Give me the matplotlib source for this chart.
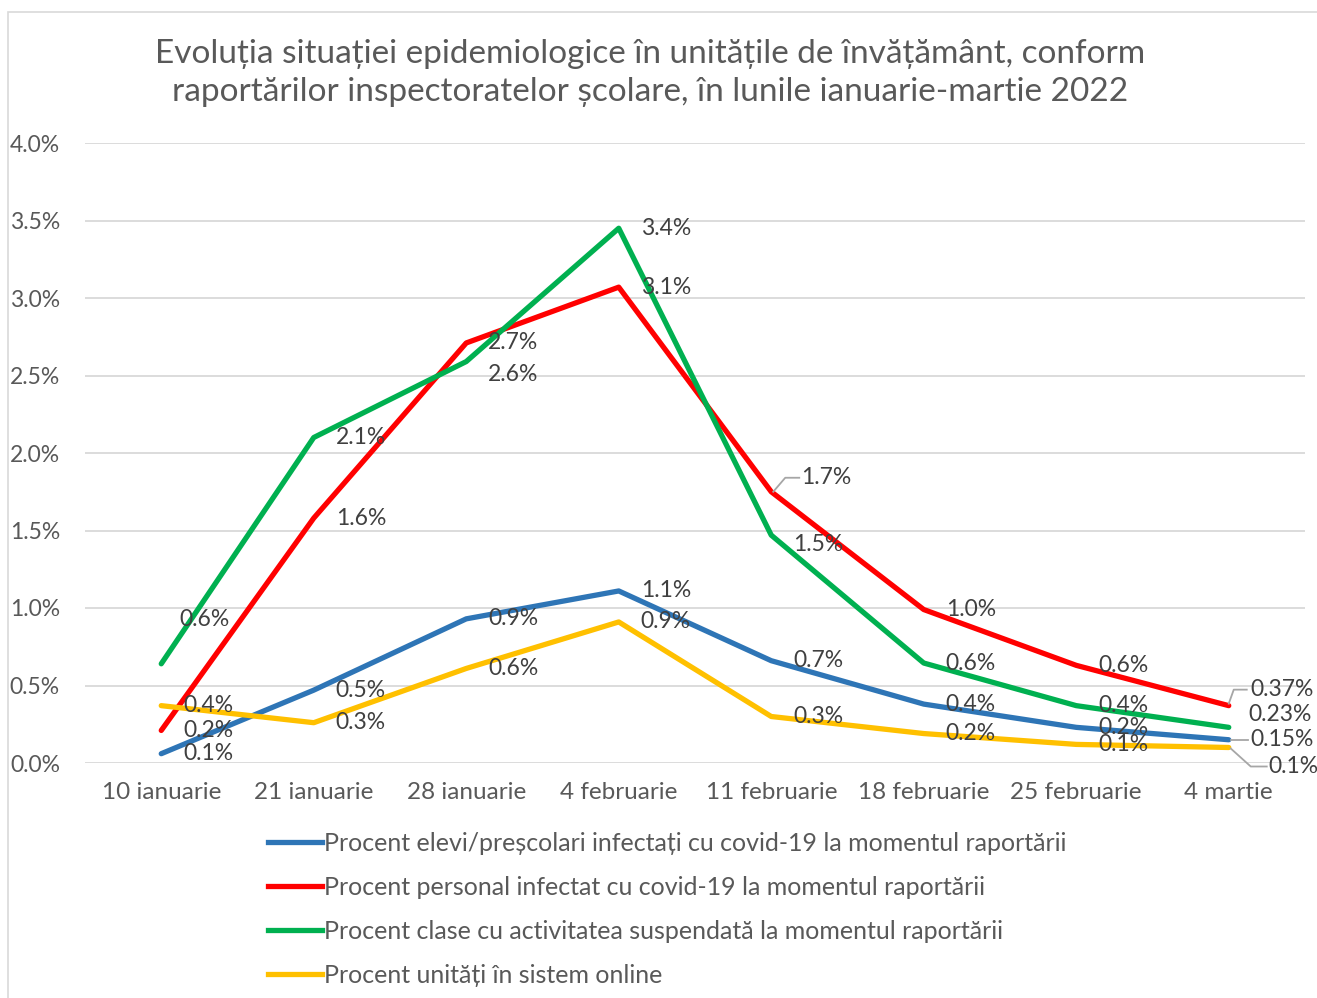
import matplotlib
matplotlib.use("Agg")
import matplotlib.pyplot as plt
from matplotlib.lines import Line2D
from matplotlib.patches import Rectangle
from matplotlib.transforms import IdentityTransform

plt.rcParams['font.family'] = ['Lato', 'DejaVu Sans']

categories = ["10 ianuarie", "21 ianuarie", "28 ianuarie", "4 februarie",
              "11 februarie", "18 februarie", "25 februarie", "4 martie"]

elevi = [0.06, 0.47, 0.93, 1.11, 0.66, 0.38, 0.23, 0.15]
personal = [0.21, 1.58, 2.71, 3.07, 1.75, 0.99, 0.63, 0.37]
clase = [0.64, 2.10, 2.59, 3.45, 1.47, 0.645, 0.37, 0.23]
online = [0.37, 0.26, 0.61, 0.91, 0.30, 0.19, 0.12, 0.10]

labels_elevi = ["0.1%", "0.5%", "0.9%", "1.1%", "0.7%", "0.4%", "0.2%", "0.15%"]
labels_personal = ["0.2%", "1.6%", "2.7%", "3.1%", "1.7%", "1.0%", "0.6%", "0.37%"]
labels_clase = ["0.6%", "2.1%", "2.6%", "3.4%", "1.5%", "0.6%", "0.4%", "0.23%"]
labels_online = ["0.4%", "0.3%", "0.6%", "0.9%", "0.3%", "0.2%", "0.1%", "0.1%"]

series_names = [
    "Procent elevi/preșcolari infectați cu covid-19 la momentul raportării",
    "Procent personal infectat cu covid-19 la momentul raportării",
    "Procent clase cu activitatea suspendată la momentul raportării",
    "Procent unități în sistem online",
]

yticks = [0.0, 0.5, 1.0, 1.5, 2.0, 2.5, 3.0, 3.5, 4.0]

title = ("Evoluția situației epidemiologice în unitățile de învățământ, conform\n"
         "raportărilor inspectoratelor școlare, în lunile ianuarie-martie 2022")

# styling
colors = ["#2E75B6", "#FF0000", "#00B050", "#FFC000"]
text_color = "#595959"
label_color = "#404040"
grid_color = "#D9D9D9"
leader_color = "#A6A6A6"

W, H = 1317, 998
fig = plt.figure(figsize=(W / 100, H / 100), dpi=100)
ax = fig.add_axes([85 / W, (H - 763) / H, 1220 / W, 620 / H])

fig.patches.append(Rectangle((8 / W, -0.01), 1.1, (H - 12) / H + 0.01,
                             transform=fig.transFigure, fill=False,
                             edgecolor=grid_color, linewidth=1.2))

xs = list(range(len(categories)))
all_series = [elevi, personal, clase, online]
for vals, col, name in zip(all_series, colors, series_names):
    ax.plot(xs, vals, color=col, linewidth=3.8, solid_capstyle='round',
            solid_joinstyle='round', label=name, zorder=3)

ax.set_xlim(-0.5, len(categories) - 0.5)
ax.set_ylim(0, 4.0)
ax.set_yticks(yticks)
ax.set_yticklabels([f"{v:.1f}%" for v in yticks])
ax.set_xticks(xs)
ax.set_xticklabels(categories)
ax.tick_params(axis='y', length=0, labelsize=16.5, colors=text_color, pad=18)
ax.tick_params(axis='x', length=0, labelsize=17.5, colors=text_color, pad=14)
ax.grid(axis='y', color=grid_color, linewidth=1.3)
ax.set_axisbelow(True)
for s in ax.spines.values():
    s.set_visible(False)

# label offsets in pixels (dx, dy) relative to point; default right of point
default_off = (22, 0)
offsets = {
    (0, 7): (22, 0),
    (1, 4): (30, 14),
    (1, 7): (22, 16),
    (2, 0): (18, 44),
    (2, 2): (22, -13),
    (2, 4): (22, -9),
    (2, 7): (20, 13),
    (3, 7): (40, -19),
}
all_labels = [labels_elevi, labels_personal, labels_clase, labels_online]
for si, (vals, labs) in enumerate(zip(all_series, all_labels)):
    for i, (v, t) in enumerate(zip(vals, labs)):
        dx, dy = offsets.get((si, i), default_off)
        ax.annotate(t, (i, v), xytext=(dx, dy), textcoords='offset pixels',
                    ha='left', va='center', fontsize=16.5, color=label_color,
                    zorder=5)

# leader lines (pixel offsets from the data point)
leaders = {
    (1, 4): [(2, 0), (14, 14), (28, 14)],
    (1, 7): [(0, 2), (5, 16), (18, 16)],
    (0, 7): [(2, 0), (19, 0)],
    (3, 7): [(2, -1), (22, -19), (38, -19)],
}
fig.canvas.draw()
for (si, i), pts in leaders.items():
    px, py = ax.transData.transform((i, all_series[si][i]))
    ln = Line2D([px + a for a, b in pts], [py + b for a, b in pts],
                transform=IdentityTransform(), color=leader_color,
                linewidth=1.3, zorder=6)
    fig.lines.append(ln)

fig.text(0.4935, (H - 73) / H, title, ha='center', va='center',
         fontsize=24, color=text_color, linespacing=1.3)

handles = [Line2D([0], [0], color=c, linewidth=3.8) for c in colors]
leg = fig.legend(handles, series_names, loc='upper left',
                 bbox_to_anchor=(268 / W, (H - 832) / H), frameon=False,
                 fontsize=18, labelcolor=text_color, handlelength=2.15,
                 handletextpad=0.1, labelspacing=0.84, borderaxespad=0,
                 borderpad=0)

fig.savefig("out.png", dpi=100, facecolor='white')
